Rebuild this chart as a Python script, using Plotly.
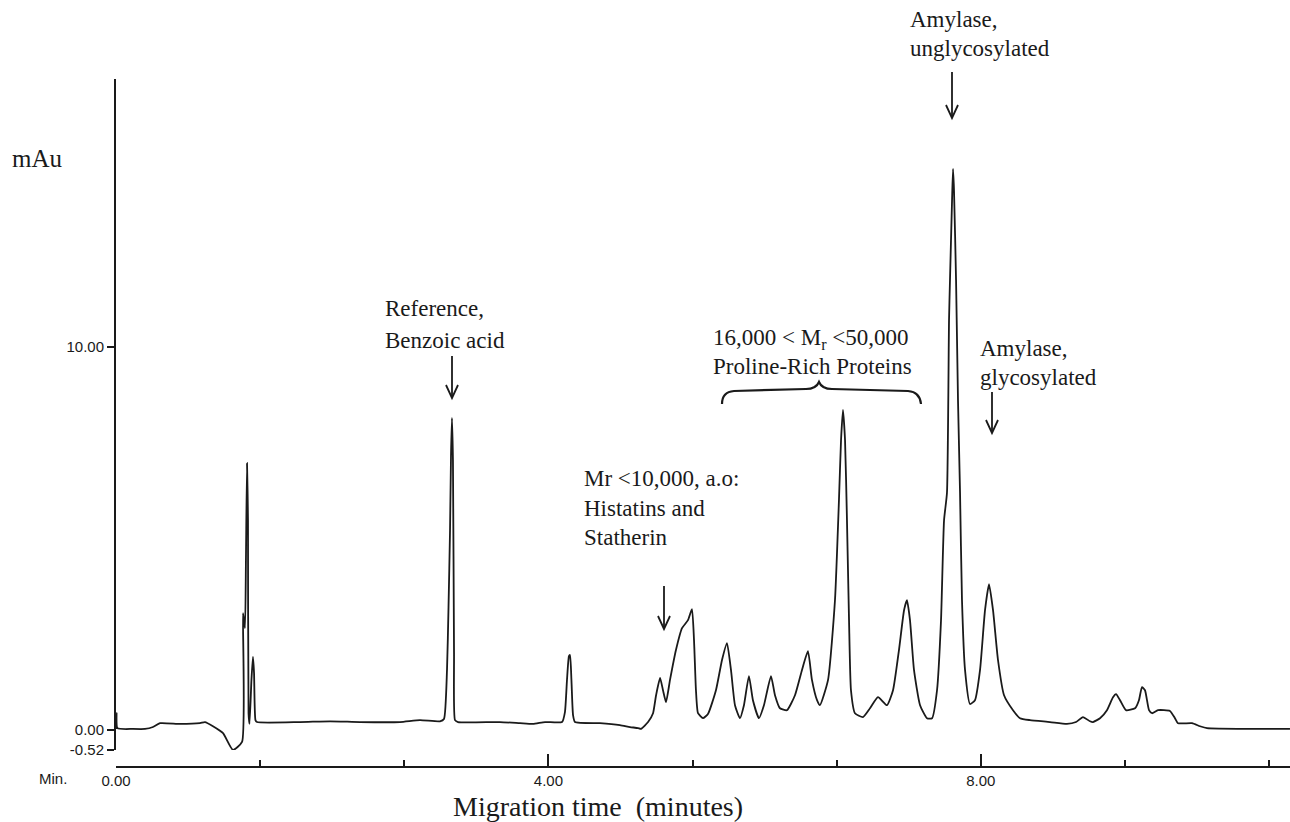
import plotly.graph_objects as go

# ---------------- data ----------------
time_min = [
    0.000, 0.005, 0.013, 0.157, 0.268, 0.342, 0.407, 0.592, 0.777, 0.823,
    0.897, 0.990, 1.082, 1.166, 1.175, 1.193, 1.202, 1.212, 1.221, 1.226,
    1.235, 1.253, 1.267, 1.277, 1.290, 1.304, 1.702, 1.980, 2.257, 2.627,
    2.812, 2.997, 3.034, 3.062, 3.076, 3.090, 3.099, 3.108, 3.117, 3.127,
    3.136, 3.164, 3.552, 3.737, 3.857, 3.969, 4.126, 4.153, 4.172, 4.190,
    4.200, 4.213, 4.228, 4.246, 4.477, 4.662, 4.755, 4.829, 4.857, 4.922,
    4.968, 4.996, 5.033, 5.060, 5.088, 5.125, 5.180, 5.236, 5.291, 5.328,
    5.347, 5.365, 5.384, 5.430, 5.476, 5.550, 5.606, 5.652, 5.689, 5.726,
    5.772, 5.809, 5.855, 5.892, 5.948, 5.994, 6.059, 6.096, 6.142, 6.207,
    6.281, 6.346, 6.401, 6.438, 6.485, 6.512, 6.587, 6.651, 6.688, 6.707,
    6.725, 6.744, 6.762, 6.781, 6.799, 6.836, 6.910, 6.975, 7.049, 7.132,
    7.188, 7.243, 7.290, 7.317, 7.345, 7.382, 7.438, 7.502, 7.549, 7.595,
    7.632, 7.660, 7.687, 7.706, 7.715, 7.734, 7.743, 7.752, 7.771, 7.789,
    7.808, 7.826, 7.854, 7.900, 7.946, 7.993, 8.039, 8.076, 8.113, 8.159,
    8.215, 8.298, 8.363, 8.455, 8.640, 8.797, 8.881, 8.945, 9.010, 9.038,
    9.103, 9.167, 9.223, 9.251, 9.288, 9.343, 9.427, 9.463, 9.491, 9.519,
    9.556, 9.584, 9.639, 9.750, 9.796, 9.824, 9.954, 10.028, 10.093, 10.490,
    10.860,
]
absorbance_mau = [
    0.03, 0.44, 0.05, 0.03, 0.03, 0.08, 0.18, 0.16, 0.18, 0.21,
    0.10, -0.08, -0.52, -0.31, 3.05, 2.66, 4.44, 6.97, 5.48, 0.44,
    0.16, 1.31, 1.91, 1.49, 0.26, 0.21, 0.21, 0.23, 0.21, 0.21,
    0.26, 0.23, 0.29, 1.57, 3.21, 5.22, 7.15, 8.15, 7.05, 2.01,
    0.26, 0.21, 0.21, 0.18, 0.16, 0.21, 0.21, 0.47, 1.31, 1.93,
    1.96, 1.31, 0.39, 0.21, 0.18, 0.13, 0.08, 0.05, 0.03, 0.21,
    0.44, 0.91, 1.36, 1.04, 0.73, 1.31, 2.09, 2.66, 2.87, 3.16,
    2.35, 1.04, 0.44, 0.31, 0.42, 1.04, 1.83, 2.27, 1.57, 0.65,
    0.31, 0.65, 1.41, 0.78, 0.31, 0.65, 1.41, 0.91, 0.57, 0.52,
    0.91, 1.57, 2.06, 1.31, 0.78, 0.65, 1.31, 3.39, 6.01, 7.57,
    8.36, 7.57, 5.48, 2.87, 1.04, 0.44, 0.34, 0.57, 0.86, 0.65,
    1.04, 2.09, 3.13, 3.39, 2.87, 1.57, 0.65, 0.31, 0.31, 1.04,
    2.87, 5.48, 6.19, 10.70, 11.75, 13.84, 14.65, 14.10, 11.75, 8.62,
    6.19, 3.39, 1.57, 0.68, 0.78, 1.57, 3.13, 3.81, 3.13, 1.83,
    0.91, 0.52, 0.31, 0.26, 0.21, 0.16, 0.21, 0.34, 0.23, 0.21,
    0.31, 0.52, 0.86, 0.94, 0.78, 0.52, 0.57, 0.78, 1.12, 1.04,
    0.52, 0.44, 0.52, 0.50, 0.31, 0.18, 0.18, 0.10, 0.05, 0.03,
    0.03,
]

y_tick_vals = [-0.52, 0.0, 10.0]
y_tick_text = ["-0.52", "0.00", "10.00"]
x_tick_vals = [0, 4, 8]
x_tick_text = ["0.00", "4.00", "8.00"]
x_minor_step = 4 / 3

# ---------------- layout geometry ----------------
W, H = 1290, 822
L, R, T, B = 116, 0, 79, 55
PW, PH = W - L - R, H - T - B

def px(x):
    return (x - L) / PW

def py(y):
    return (H - B - y) / PH

INK = "#1a1a1a"
SERIF = "Liberation Serif, Times New Roman, serif"
SANS = "Liberation Sans Narrow, Arial Narrow, Liberation Sans, Arial, sans-serif"

fig = go.Figure()
fig.add_trace(go.Scatter(
    x=time_min, y=absorbance_mau, mode="lines",
    line=dict(color=INK, width=1.8, shape="spline", smoothing=0.5),
    hoverinfo="x+y", showlegend=False,
))

fig.update_layout(
    width=W, height=H,
    margin=dict(l=L, r=R, t=T, b=B, pad=0),
    paper_bgcolor="white", plot_bgcolor="white",
    showlegend=False,
    xaxis=dict(
        range=[0, PW / 108.1], anchor="free", position=0,
        showline=True, linecolor=INK, linewidth=2,
        showgrid=False, zeroline=False,
        tickmode="array", tickvals=x_tick_vals, ticktext=x_tick_text,
        ticks="inside", ticklen=12, tickwidth=1.5, tickcolor=INK,
        tickfont=dict(family=SANS, size=15, color=INK),
        minor=dict(tickmode="linear", tick0=0, dtick=x_minor_step,
                   ticks="inside", ticklen=6, tickwidth=1.5, tickcolor=INK,
                   showgrid=False),
    ),
    yaxis=dict(
        domain=[py(750), 1], range=[-0.52, 17.0],
        showline=True, linecolor=INK, linewidth=2,
        showgrid=False, zeroline=False,
        tickmode="array", tickvals=y_tick_vals, ticktext=y_tick_text,
        ticks="outside", ticklen=7, tickwidth=1.5, tickcolor=INK,
        tickfont=dict(family=SANS, size=15, color=INK),
    ),
)

annotations = []

def text(t, x, y, size=23, family=SERIF, xanchor="left"):
    annotations.append(dict(
        text=t, x=px(x), y=py(y), xref="paper", yref="paper",
        xanchor=xanchor, yanchor="middle", showarrow=False,
        font=dict(family=family, size=size, color=INK),
    ))

text("mAu", 10, 158, size=25)
text("Min.", 37, 778, size=15, family=SANS)
text("Migration time&nbsp; (minutes)", 598, 806, size=28, xanchor="center")

text("Reference,", 383, 308)
text("Benzoic acid", 383, 340)
text("16,000 &lt; M<sub>r</sub> &lt;50,000", 711, 339)
text("Proline-Rich Proteins", 711, 366)
text("Mr &lt;10,000, a.o:", 582, 479)
text("Histatins and", 582, 508)
text("Statherin", 582, 537)
text("Amylase,", 908, 20)
text("unglycosylated", 908, 49)
text("Amylase,", 978, 348)
text("glycosylated", 978, 377)

shapes = []

def arrow(x, y1, y2):
    line = dict(color=INK, width=1.8)
    shapes.append(dict(type="line", xref="paper", yref="paper",
                       x0=px(x), x1=px(x), y0=py(y1), y1=py(y2), line=line))
    path = "M {},{} L {},{} L {},{}".format(
        px(x - 6), py(y2 - 13), px(x), py(y2), px(x + 6), py(y2 - 13))
    shapes.append(dict(type="path", xref="paper", yref="paper", path=path, line=line))

arrow(452, 356, 398)
arrow(664, 586, 629)
arrow(952, 72, 118)
arrow(992, 392, 433)

def P(x, y):
    return "{:.5f},{:.5f}".format(px(x), py(y))

brace = ("M " + P(722, 404) + " Q " + P(722, 392) + " " + P(734, 391) +
         " L " + P(806, 389) + " Q " + P(816, 389) + " " + P(819, 382) +
         " Q " + P(822, 389) + " " + P(832, 389) +
         " L " + P(908, 391) + " Q " + P(920, 392) + " " + P(921, 404))
shapes.append(dict(type="path", xref="paper", yref="paper", path=brace,
                   line=dict(color=INK, width=2.2)))

fig.update_layout(annotations=annotations, shapes=shapes)

fig.write_html("out.html", config={"displayModeBar": False},
               post_script="document.body.style.margin='0';")
